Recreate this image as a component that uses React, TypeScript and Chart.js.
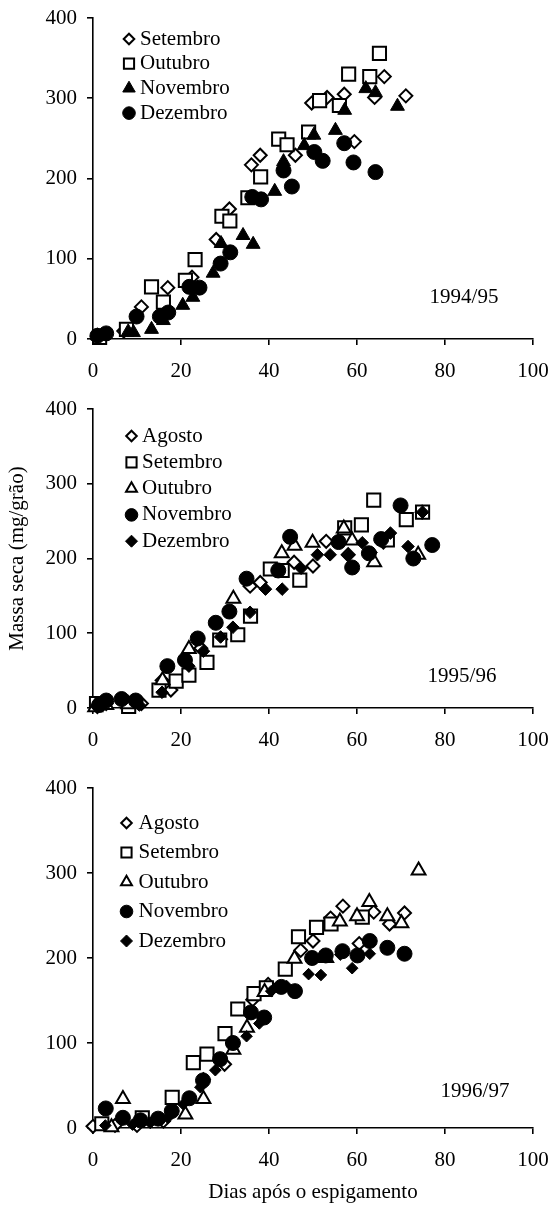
import React, { useEffect, useRef } from 'react';
import { Chart, registerables } from 'chart.js';

Chart.register(...registerables);

const FONT_FAMILY = "'Liberation Serif', 'Times New Roman', Times, serif";
const FONT_SIZE = 21;

// ---- axes ----
const xTickValues = [0, 20, 40, 60, 80, 100];
const yTickValues = [0, 100, 200, 300, 400];
const yAxisTitle = 'Massa seca (mg/grão)';
const xAxisTitle = 'Dias após o espigamento';
const yearLabels = ['1994/95', '1995/96', '1996/97'];

// ---- 1994/95 ----
const names9495 = ['Setembro', 'Outubro', 'Novembro', 'Dezembro'];
const s9495Setembro: [number, number][] = [
  [1, 3], [7, 10], [11, 40], [17, 64], [22.5, 77], [28, 124], [31, 162], [36, 217], [38, 229],
  [46, 229], [49.7, 294], [53.2, 301], [57.1, 305], [59.4, 246], [64, 301], [66.2, 327], [71.1, 303],
];
const s9495Outubro: [number, number][] = [
  [1.5, 2], [7.6, 12], [13.3, 65], [16, 46], [21, 73], [23.2, 99], [29.3, 153], [31.1, 147],
  [35.2, 176], [38.1, 202], [42.2, 249], [44.1, 242], [49, 258], [51.5, 297], [56, 291],
  [58.1, 330], [62.9, 327], [65.1, 356],
];
const s9495Novembro: [number, number][] = [
  [1, 4], [8, 9], [9.2, 8], [13.3, 12], [16, 23], [20.4, 42], [22.7, 52], [27.3, 82], [29.1, 119],
  [34.1, 129], [36.4, 118], [41.3, 184], [43.3, 221], [48, 241], [50.2, 254], [55.1, 260],
  [57.2, 285], [62, 312], [64.2, 307], [69.2, 290],
];
const s9495Dezembro: [number, number][] = [
  [1, 4], [3, 7], [9.9, 28], [15.2, 28], [17.1, 33], [21.9, 65], [24.2, 64], [29, 94], [31.2, 108],
  [36.2, 177], [38.2, 174], [43.3, 210], [45.2, 190], [50.3, 233], [52.2, 222], [57.1, 244],
  [59.2, 220], [64.2, 208],
];

// ---- 1995/96 ----
const names9596 = ['Agosto', 'Setembro', 'Outubro', 'Novembro', 'Dezembro'];
const s9596Agosto: [number, number][] = [
  [1, 2], [3, 6], [8, 4], [11, 6], [15.7, 37], [17.7, 24], [24.5, 80], [29, 92], [35.7, 163],
  [38, 168], [45.7, 195], [50, 190], [53, 223], [58, 205], [66, 222], [74.8, 262],
];
const s9596Setembro: [number, number][] = [
  [0.8, 6], [8.1, 2], [15, 24], [18.9, 36], [21.8, 44], [25.9, 61], [28.8, 91], [32.9, 98],
  [35.8, 123], [40.3, 186], [43, 184], [47, 171], [57.2, 241], [61, 245], [63.8, 278],
  [66.9, 225], [71.2, 252], [74.9, 262],
];
const s9596Outubro: [number, number][] = [
  [0.5, 1], [3, 4], [8, 5], [15.8, 37], [21.8, 79], [31.9, 146], [42.9, 207], [45.8, 217],
  [49.9, 221], [57, 240], [58.9, 224], [63.9, 195], [73.9, 205],
];
const s9596Novembro: [number, number][] = [
  [1.4, 4], [3, 10], [6.5, 12], [9.7, 10], [16.9, 56], [20.9, 64], [23.8, 93], [27.9, 114],
  [31, 129], [34.9, 173], [42.1, 184], [44.8, 229], [55.8, 222], [58.9, 188], [62.7, 207],
  [65.5, 226], [69.9, 271], [72.8, 200], [77.1, 218],
];
const s9596Dezembro: [number, number][] = [
  [1, 1], [3, 8], [10.5, 4], [15.7, 21], [21.8, 56], [25.1, 76], [29, 95], [31.8, 108],
  [35.7, 128], [39.2, 159], [43, 159], [47.3, 187], [51, 205], [53.9, 205], [58, 204],
  [61.2, 221], [63.2, 208], [65.3, 224], [67.6, 234], [71.6, 216], [74.9, 262],
];

// ---- 1996/97 ----
const names9697 = ['Agosto', 'Setembro', 'Outubro', 'Novembro', 'Dezembro'];
const s9697Agosto: [number, number][] = [
  [0, 2], [5, 3], [10, 3], [16, 8], [25.1, 57], [29.9, 75], [36.3, 151], [39.8, 169], [47.2, 209],
  [50, 220], [54, 247], [56.8, 261], [60.5, 217], [63.8, 254], [67.4, 240], [70.8, 253],
];
const s9697Setembro: [number, number][] = [
  [2, 5], [11.2, 12], [18, 36], [22.8, 77], [25.9, 87], [30, 111], [32.9, 140], [36.6, 158],
  [39.4, 165], [43.7, 187], [46.7, 225], [50.8, 236], [54.1, 240], [61.2, 248],
];
const s9697Outubro: [number, number][] = [
  [4.2, 1], [6.8, 34], [21, 16], [25.1, 34], [31.9, 92], [35, 118], [39, 160], [45.8, 199],
  [53, 200], [56.1, 243], [60, 249], [62.8, 266], [66.9, 249], [70.1, 241], [74, 303],
];
const s9697Novembro: [number, number][] = [
  [2.9, 23], [6.8, 12], [10.8, 9], [14.8, 11], [17.9, 20], [21.9, 35], [25, 56], [28.9, 81],
  [31.8, 100], [35.9, 136], [38.9, 130], [42.8, 166], [45.9, 161], [49.8, 200], [52.9, 203],
  [56.7, 208], [60.1, 203], [62.9, 220], [66.9, 212], [70.8, 205],
];
const s9697Dezembro: [number, number][] = [
  [2.8, 3], [9, 4], [13, 6], [17, 12], [20.5, 28], [24.4, 48], [27.8, 68], [34.9, 108],
  [37.8, 123], [40.5, 161], [44, 167], [49, 181], [51.8, 180], [56.2, 204], [58.9, 188],
  [62.9, 205],
];

type Marker = { style: 'rectRot' | 'rect' | 'triangle' | 'circle'; filled: boolean; r: number; lr: number };

const MK: Record<string, Marker> = {
  diamondOpen: { style: 'rectRot', filled: false, r: 6.5, lr: 5.3 },
  squareOpen: { style: 'rect', filled: false, r: 9.3, lr: 7.2 },
  triFilled: { style: 'triangle', filled: true, r: 8, lr: 7.2 },
  triOpen: { style: 'triangle', filled: false, r: 8, lr: 6.3 },
  circle: { style: 'circle', filled: true, r: 7.5, lr: 6.3 },
  diamondFilled: { style: 'rectRot', filled: true, r: 6.3, lr: 6 },
  diamondFilledSmall: { style: 'rectRot', filled: true, r: 5.8, lr: 6 },
};

type Panel = {
  top: number;
  height: number;
  padTop: number;
  xH: number;
  names: string[];
  data: [number, number][][];
  markers: Marker[];
  legendX: number;
  textX: number;
  legendY0: number;
  legendDy: number;
  year: string;
  yearX: number;
  yearY: number;
  showYTitle: boolean;
  showXTitle: boolean;
};

const panels: Panel[] = [
  {
    top: 0, height: 390, padTop: 18, xH: 51,
    names: names9495,
    data: [s9495Setembro, s9495Outubro, s9495Novembro, s9495Dezembro],
    markers: [MK.diamondOpen, MK.squareOpen, MK.triFilled, MK.circle],
    legendX: 129, textX: 140, legendY0: 39, legendDy: 24.7,
    year: yearLabels[0], yearX: 464, yearY: 297,
    showYTitle: false, showXTitle: false,
  },
  {
    top: 390, height: 385, padTop: 19, xH: 67,
    names: names9596,
    data: [s9596Agosto, s9596Setembro, s9596Outubro, s9596Novembro, s9596Dezembro],
    markers: [MK.diamondOpen, MK.squareOpen, MK.triOpen, MK.circle, MK.diamondFilled],
    legendX: 131.5, textX: 142, legendY0: 46, legendDy: 26.3,
    year: yearLabels[1], yearX: 462, yearY: 286,
    showYTitle: true, showXTitle: false,
  },
  {
    top: 775, height: 430, padTop: 13, xH: 77,
    names: names9697,
    data: [s9697Agosto, s9697Setembro, s9697Outubro, s9697Novembro, s9697Dezembro],
    markers: [MK.diamondOpen, MK.squareOpen, MK.triOpen, MK.circle, MK.diamondFilledSmall],
    legendX: 126.5, textX: 138.5, legendY0: 48, legendDy: 29.5,
    year: yearLabels[2], yearX: 475, yearY: 316,
    showYTitle: false, showXTitle: true,
  },
];

function drawMarker(ctx: CanvasRenderingContext2D, m: Marker, x: number, y: number, r: number) {
  ctx.beginPath();
  if (m.style === 'circle') {
    ctx.arc(x, y, r, 0, Math.PI * 2);
  } else if (m.style === 'rect') {
    const s = r * Math.SQRT1_2;
    ctx.rect(x - s, y - s, 2 * s, 2 * s);
  } else if (m.style === 'rectRot') {
    ctx.moveTo(x - r, y);
    ctx.lineTo(x, y - r);
    ctx.lineTo(x + r, y);
    ctx.lineTo(x, y + r);
    ctx.closePath();
  } else {
    for (let k = 0; k < 3; k++) {
      const a = (k * 2 * Math.PI) / 3;
      const px = x + Math.sin(a) * r;
      const py = y - Math.cos(a) * r;
      if (k === 0) ctx.moveTo(px, py);
      else ctx.lineTo(px, py);
    }
    ctx.closePath();
  }
  ctx.fillStyle = m.filled ? '#000' : '#fff';
  ctx.fill();
  ctx.lineWidth = m.filled ? 1 : 2;
  ctx.strokeStyle = '#000';
  ctx.stroke();
}

function overlayPlugin(p: Panel) {
  return {
    id: 'overlay',
    afterDatasetsDraw(chart: Chart) {
      const ctx = chart.ctx;
      ctx.save();
      ctx.font = `${FONT_SIZE}px ${FONT_FAMILY}`;
      ctx.textBaseline = 'middle';
      p.names.forEach((n, i) => {
        const y = p.legendY0 + i * p.legendDy;
        drawMarker(ctx, p.markers[i], p.legendX, y, p.markers[i].lr);
        ctx.fillStyle = '#000';
        ctx.textAlign = 'left';
        ctx.fillText(n, p.textX, y);
      });
      ctx.fillStyle = '#000';
      ctx.textAlign = 'center';
      ctx.fillText(p.year, p.yearX, p.yearY);
      ctx.restore();
    },
  };
}

function zeroPadding(s: any) {
  s.paddingLeft = 0;
  s.paddingRight = 0;
  s.paddingTop = 0;
  s.paddingBottom = 0;
}

function PanelChart({ panel }: { panel: Panel }) {
  const ref = useRef<HTMLCanvasElement>(null);
  useEffect(() => {
    const canvas = ref.current;
    if (!canvas) return;
    const font = { family: FONT_FAMILY, size: FONT_SIZE };
    const chart = new Chart(canvas, {
      type: 'scatter',
      data: {
        datasets: panel.data.map((d, i) => {
          const m = panel.markers[i];
          return {
            label: panel.names[i],
            data: d.map(([x, y]) => ({ x, y })),
            pointStyle: m.style,
            pointRadius: m.r,
            pointHoverRadius: m.r,
            pointBackgroundColor: m.filled ? '#000' : '#fff',
            pointBorderColor: '#000',
            pointBorderWidth: m.filled ? 1 : 2,
            showLine: false,
            clip: false as any,
            order: panel.data.length - i,
          };
        }),
      },
      options: {
        animation: false,
        responsive: false,
        events: [],
        layout: { padding: { top: panel.padTop, left: 0, right: 17, bottom: 0 } },
        plugins: { legend: { display: false }, tooltip: { enabled: false } },
        scales: {
          x: {
            type: 'linear',
            min: xTickValues[0],
            max: xTickValues[xTickValues.length - 1],
            ticks: {
              stepSize: xTickValues[1] - xTickValues[0],
              font,
              color: '#000',
              padding: 14,
              maxRotation: 0,
              autoSkip: false,
            },
            grid: { drawOnChartArea: false, drawTicks: true, tickLength: 6, color: '#000', lineWidth: 1.6 },
            border: { display: true, color: '#000', width: 1.6 },
            title: {
              display: panel.showXTitle,
              text: xAxisTitle,
              font,
              color: '#000',
              padding: { top: 0, bottom: 0 },
            },
            afterFit: (s: any) => {
              s.height = panel.xH;
              zeroPadding(s);
            },
          },
          y: {
            type: 'linear',
            min: yTickValues[0],
            max: yTickValues[yTickValues.length - 1],
            ticks: {
              stepSize: yTickValues[1] - yTickValues[0],
              font,
              color: '#000',
              padding: 10,
            },
            grid: { drawOnChartArea: false, drawTicks: true, tickLength: 6, color: '#000', lineWidth: 1.6 },
            border: { display: true, color: '#000', width: 1.6 },
            title: {
              display: panel.showYTitle,
              text: yAxisTitle,
              font,
              color: '#000',
              padding: { top: 5, bottom: 0 },
            },
            afterFit: (s: any) => {
              s.width = 93;
              zeroPadding(s);
            },
          },
        },
      } as any,
      plugins: [overlayPlugin(panel) as any],
    });
    return () => chart.destroy();
  }, [panel]);
  return (
    <canvas
      ref={ref}
      width={550}
      height={panel.height}
      style={{ position: 'absolute', left: 0, top: panel.top, width: 550, height: panel.height }}
    />
  );
}

export default function App() {
  return (
    <div style={{ position: 'absolute', left: 0, top: 0, width: 550, height: 1205, background: '#fff' }}>
      {panels.map((p, i) => (
        <PanelChart key={i} panel={p} />
      ))}
    </div>
  );
}
